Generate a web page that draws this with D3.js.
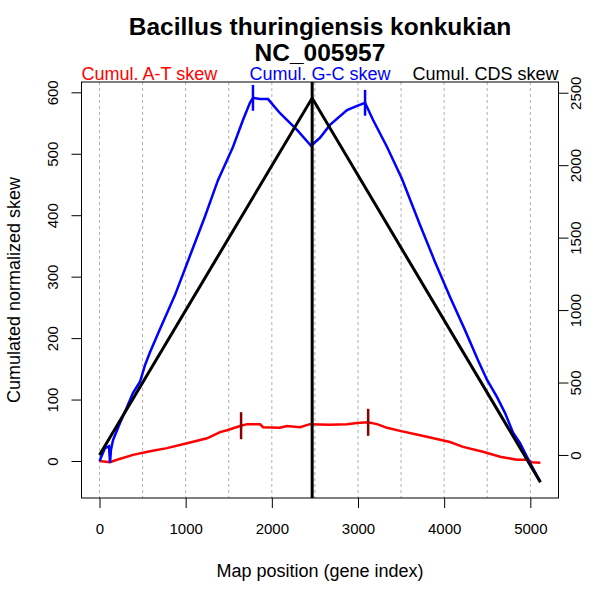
<!DOCTYPE html>
<meta charset="utf-8">
<style>
body { margin: 0; background: white; }
text { font-family: "Liberation Sans", Arial, sans-serif; }
</style>
<body>
<script src="https://d3js.org/d3.v7.min.js"></script>
<script>

// gene index / cumulated skew
var gcGene = [0, 64, 110, 122, 133, 157, 238, 319, 389, 470, 528, 586, 702, 876, 1050, 1224, 1375, 1549, 1665, 1746, 1781, 1863, 1956, 2095, 2292, 2455, 2559, 2675, 2873, 2989, 3082, 3175, 3337, 3511, 3720, 3894, 4068, 4242, 4393, 4498, 4614, 4707, 4800, 4881, 4939, 4997, 5055, 5117];
var gcSkew = [0, 21, 24, -3, 18, 34, 62, 88, 111, 129, 156, 177, 215, 270, 334, 398, 457, 511, 555, 583, 591, 589, 589, 566, 539, 513, 526, 547, 571, 578, 583, 555, 511, 459, 384, 324, 267, 213, 164, 132, 104, 78, 46, 29, 13, -3, -18, -34];

var atGene = [0, 122, 203, 389, 586, 783, 1016, 1248, 1399, 1480, 1631, 1712, 1863, 1898, 2095, 2176, 2327, 2443, 2675, 2873, 2989, 3116, 3221, 3337, 3488, 3720, 4068, 4219, 4451, 4649, 4846, 4962, 5020, 5117];
var atSkew = [0, -2, 2, 10, 16, 21, 29, 37, 47, 50, 57, 60, 60, 55, 54, 57, 55, 60, 59, 60, 62, 63, 60, 54, 49, 42, 31, 23, 15, 7, 2, 2, -2, -3];

var cdsGene = [0, 2468, 5117];
var cdsSkew = [0, 2463, -188];

var gcMarks = [1781, 3082];
var atMarks = [1643, 3118];
var originGene = 2468;

var xTicks = [0, 1000, 2000, 3000, 4000, 5000];
var gridTicks = d3.range(0, 5001, 500);
var leftTicks = [0, 100, 200, 300, 400, 500, 600];
var rightTicks = [0, 500, 1000, 1500, 2000, 2500];

var width = 600, height = 600;
var L = 81.5, R = 558.5, T = 82, B = 498;

var svg = d3.select("body").append("svg")
    .attr("width", width)
    .attr("height", height);

var x = d3.scaleLinear().domain([-209, 5327]).range([L, R]);
var y = d3.scaleLinear().domain([-60.2, 616.8]).range([B, T]);
var y2 = d3.scaleLinear().domain([-297, 2574]).range([B, T]);

// dotted grid
svg.selectAll(".grid").data(gridTicks).enter().append("line")
    .attr("x1", d => x(d)).attr("x2", d => x(d))
    .attr("y1", T).attr("y2", B)
    .attr("stroke", "#b0b0b0").attr("stroke-dasharray", "3,3");

// axes
var fmt = d3.format("d");
var xAxis = svg.append("g").attr("transform", "translate(0," + B + ")")
    .call(d3.axisBottom(x).tickValues(xTicks).tickFormat(fmt).tickSize(10).tickPadding(15));
xAxis.select(".domain").remove();

var yAxis = svg.append("g").attr("transform", "translate(" + L + ",0)")
    .call(d3.axisLeft(y).tickValues(leftTicks).tickFormat(fmt).tickSize(10));
yAxis.select(".domain").remove();
yAxis.selectAll("text")
    .attr("transform", "translate(-23.5,0) rotate(-90)")
    .attr("x", 0).attr("y", 0).attr("dy", 0).attr("text-anchor", "middle");

var y2Axis = svg.append("g").attr("transform", "translate(" + R + ",0)")
    .call(d3.axisRight(y2).tickValues(rightTicks).tickFormat(fmt).tickSize(10));
y2Axis.select(".domain").remove();
y2Axis.selectAll("text")
    .attr("transform", "translate(22.5,0) rotate(-90)")
    .attr("x", 0).attr("y", 0).attr("dy", 0).attr("text-anchor", "middle");

svg.selectAll(".tick text").attr("font-size", 15).attr("fill", "#000")
    .attr("font-family", "Liberation Sans, Arial, sans-serif");
svg.selectAll(".tick line").attr("stroke", "#000");

svg.append("rect").attr("x", L).attr("y", T)
    .attr("width", R - L).attr("height", B - T)
    .attr("fill", "none").attr("stroke", "#000");

var g = svg.append("g");

var line = d3.line().x(d => x(d[0])).y(d => y(d[1]));
var line2 = d3.line().x(d => x(d[0])).y(d => y2(d[1]));

g.append("path").datum(d3.zip(atGene, atSkew))
    .attr("d", line).attr("fill", "none").attr("stroke", "#ff0000").attr("stroke-width", 2.5);

g.append("path").datum(d3.zip(gcGene, gcSkew))
    .attr("d", line).attr("fill", "none").attr("stroke", "#0000ff").attr("stroke-width", 2.5);

g.append("path").datum(d3.zip(cdsGene, cdsSkew))
    .attr("d", line2).attr("fill", "none").attr("stroke", "#000").attr("stroke-width", 3);

g.append("line")
    .attr("x1", x(originGene)).attr("x2", x(originGene))
    .attr("y1", T).attr("y2", B)
    .attr("stroke", "#000").attr("stroke-width", 3);

// min / max markers
function valueAt(genes, vals, p) {
  var i = d3.bisectLeft(genes, p);
  if (i <= 0) return vals[0];
  if (i >= genes.length) return vals[vals.length - 1];
  var t = (p - genes[i - 1]) / (genes[i] - genes[i - 1]);
  return vals[i - 1] + t * (vals[i] - vals[i - 1]);
}
g.selectAll(".gcmark").data(gcMarks).enter().append("line")
    .attr("x1", d => x(d)).attr("x2", d => x(d))
    .attr("y1", d => y(valueAt(gcGene, gcSkew, d) + 21))
    .attr("y2", d => y(valueAt(gcGene, gcSkew, d) - 21))
    .attr("stroke", "#0000ff").attr("stroke-width", 2.5);
g.selectAll(".atmark").data(atMarks).enter().append("line")
    .attr("x1", d => x(d)).attr("x2", d => x(d))
    .attr("y1", d => y(valueAt(atGene, atSkew, d) + 22))
    .attr("y2", d => y(valueAt(atGene, atSkew, d) - 22))
    .attr("stroke", "#8b0000").attr("stroke-width", 2.5);

// titles
svg.append("text").attr("x", 320).attr("y", 35).attr("text-anchor", "middle")
    .attr("font-size", 24.5).attr("font-weight", "bold")
    .text("Bacillus thuringiensis konkukian");
svg.append("text").attr("x", 320).attr("y", 61).attr("text-anchor", "middle")
    .attr("font-size", 24.5).attr("font-weight", "bold")
    .text("NC_005957");

svg.append("text").attr("x", L).attr("y", 80).attr("font-size", 18)
    .attr("fill", "#ff0000").text("Cumul. A-T skew");
svg.append("text").attr("x", 320).attr("y", 80).attr("font-size", 18)
    .attr("text-anchor", "middle").attr("fill", "#0000ff").text("Cumul. G-C skew");
svg.append("text").attr("x", R).attr("y", 80).attr("font-size", 18)
    .attr("text-anchor", "end").attr("fill", "#000").text("Cumul. CDS skew");

svg.append("text").attr("x", 320).attr("y", 577).attr("text-anchor", "middle")
    .attr("font-size", 18).text("Map position (gene index)");
svg.append("text").attr("transform", "translate(20,290) rotate(-90)")
    .attr("text-anchor", "middle").attr("font-size", 18)
    .text("Cumulated normalized skew");

</script>
</body>
</html>
